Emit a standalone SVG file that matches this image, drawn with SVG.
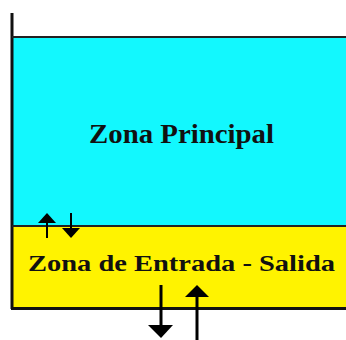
<svg xmlns="http://www.w3.org/2000/svg" width="346" height="340" viewBox="0 0 346 340">
<style>
.lbl{font-family:"Liberation Serif","Times New Roman",serif;font-weight:bold;fill:#111;}
.wall{stroke:#111;stroke-width:3;fill:none;}
.sh{stroke:#000;fill:none;}
.hd{fill:#000;}
</style>
<rect width="346" height="340" fill="#fff"/>
<g id="zona-principal">
<rect x="12" y="37" width="334" height="189" fill="#12F8FE"/>
<text class="lbl" x="89" y="143" font-size="28" textLength="185" lengthAdjust="spacingAndGlyphs">Zona Principal</text>
</g>
<g id="zona-entrada-salida">
<rect x="12" y="226" width="334" height="82" fill="#FFF300"/>
<text class="lbl" x="28" y="271" font-size="23" textLength="307" lengthAdjust="spacingAndGlyphs">Zona de Entrada - Salida</text>
</g>
<g id="tank">
<line class="wall" x1="12" y1="13" x2="12" y2="309"/>
<line x1="12" y1="37" x2="346" y2="37" stroke="#222" stroke-width="2"/>
<line x1="12" y1="226" x2="346" y2="226" stroke="#222" stroke-width="2"/>
<line class="wall" x1="11" y1="308.5" x2="346" y2="308.5"/>
</g>
<g id="connectors">
<line class="sh" x1="47" y1="222" x2="47" y2="238" stroke-width="2"/>
<polygon class="hd" points="47,213 56,223 38,223"/>
<line class="sh" x1="71" y1="213" x2="71" y2="229" stroke-width="2"/>
<polygon class="hd" points="71,238 80,228 62,228"/>
<line class="sh" x1="161" y1="285" x2="161" y2="326" stroke-width="3"/>
<polygon class="hd" points="161,338 173,325 148,325"/>
<line class="sh" x1="197" y1="296" x2="197" y2="340" stroke-width="3"/>
<polygon class="hd" points="197,285 209,297 185,297"/>
</g>
</svg>
